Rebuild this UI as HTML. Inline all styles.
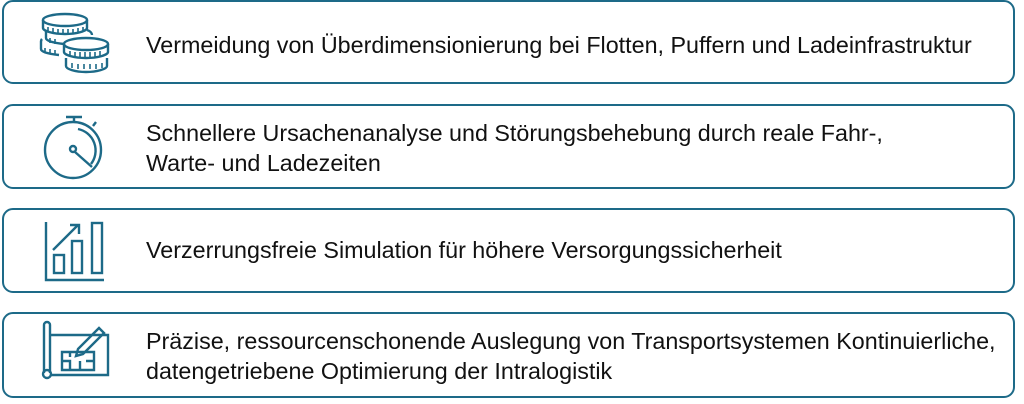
<!DOCTYPE html>
<html><head><meta charset="utf-8"><style>
body{margin:0;width:1024px;height:404px;background:#fff;position:relative;overflow:hidden;font-family:"Liberation Sans",sans-serif;}
.b{position:absolute;left:2px;width:1013px;border:2.5px solid #1d6a88;border-radius:11px;box-sizing:border-box;}
.t{position:absolute;left:146px;font-size:23.3px;color:#111;line-height:30px;white-space:nowrap;}
svg{position:absolute;left:0;top:0}
</style></head><body>
<div class="b" style="top:0;height:84px"></div>
<div class="b" style="top:104px;height:85px"></div>
<div class="b" style="top:208px;height:85px"></div>
<div class="b" style="top:312px;height:86px"></div>
<div class="t" style="top:30px">Vermeidung von Überdimensionierung bei Flotten, Puffern und Ladeinfrastruktur</div>
<div class="t" style="top:118px">Schnellere Ursachenanalyse und Störungsbehebung durch reale Fahr-,<br>Warte- und Ladezeiten</div>
<div class="t" style="top:235px">Verzerrungsfreie Simulation für höhere Versorgungssicherheit</div>
<div class="t" style="top:326px">Präzise, ressourcenschonende Auslegung von Transportsystemen Kontinuierliche,<br>datengetriebene Optimierung der Intralogistik</div>
<svg width="1024" height="404" fill="none" stroke="#1d6a88" stroke-width="2.4">
<!-- coins -->
<ellipse cx="65" cy="20" rx="22" ry="6"/>
<path d="M43 20v8c0 3 10 6 22 6s22-3 22-6v-8"/>
<path d="M46 30v8c0 3 8 5 18 6"/>
<path d="M42 39c-1 1-1 2-1 3v7c0 3 8 5 18 6"/>
<path d="M87 30c3 1 5 3 5 5"/>
<ellipse cx="86" cy="44" rx="22" ry="6"/>
<path d="M64 44v8c0 3 10 6 22 6s22-3 22-6v-8"/>
<path d="M66 58v8c0 3 9 6 20 6s21-3 21-6v-8"/>
<path d="M48 27v5M53 28v5M58 29v5M63 29v5M68 29v5M73 29v5M78 28v5M83 27v5M70 51v5M75 52v5M80 52v5M85 52v5M90 52v5M95 52v5M100 51v5M72 63v5M78 64v5M84 64v5M90 64v5M96 64v5M102 63v5M50 38v5M55 39v5M45 48v5M50 49v5M55 50v5" stroke-width="1.6"/>
<!-- stopwatch -->
<circle cx="73" cy="150" r="28"/><path d="M66 117h16M74 117v5M93 126l3-4"/>
<path d="M78 129a22 22 0 0 1 13 35"/><circle cx="73" cy="149" r="3"/><path d="M75 152l17 15"/>
<!-- chart -->
<path d="M46 222v58h58"/><rect x="54" y="255" width="10" height="18"/><rect x="72" y="241" width="10" height="32"/><rect x="92" y="223" width="10" height="50"/>
<path d="M53 250l25-25M70 225h9v9"/>
<!-- blueprint -->
<path d="M44 325v48M50 325v48"/><path d="M44 325a3 3 0 0 1 6 0"/><circle cx="47" cy="374" r="4"/>
<path d="M50 335h58v40H51"/><path d="M62 352h32v18H62z"/><path d="M70 352v5M62 361h8v9M80 361v9M86 361h8"/>
<path d="M78 349l21-21 5 5-21 21-7 2z"/>
</svg>
</body></html>
